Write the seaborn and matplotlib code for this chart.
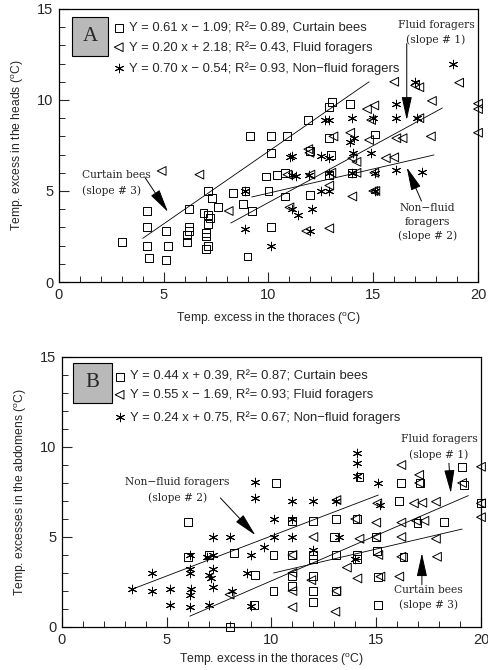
import matplotlib
matplotlib.use("Agg")
import matplotlib.pyplot as plt
import seaborn as sns
import pandas as pd
from matplotlib.patches import Rectangle
from matplotlib.ticker import MultipleLocator

# ---------------- Panel A : heads vs thoraces ----------------
a_curtain_x = [3.0, 4.2, 4.2, 4.2, 4.3, 5.1, 5.2, 5.1, 6.2, 6.1, 6.2, 6.2, 6.1,
               7.1, 7.3, 6.9, 7.1, 7.2, 7.1, 7.0, 7.0, 7.1, 7.0, 7.6, 8.3, 8.8,
               8.9, 9.0, 9.2, 9.1, 9.9, 10.0, 10.1, 10.1, 10.1, 10.4, 10.9, 10.8,
               10.8, 11.9, 12.0, 12.0, 12.9, 13.0, 12.9, 12.9, 13.9, 14.0, 15.1,
               13.05, 13.9]
a_curtain_y = [2.2, 3.9, 3.0, 2.0, 1.3, 2.8, 2.0, 1.2, 4.0, 2.6, 3.0, 2.8, 2.2,
               5.0, 4.6, 3.8, 3.7, 3.5, 3.2, 2.7, 2.5, 2.0, 1.8, 4.1, 4.9, 4.3,
               5.0, 1.4, 3.9, 8.0, 5.8, 5.0, 3.0, 7.1, 8.0, 5.9, 8.0, 6.0,
               4.7, 8.9, 7.2, 4.8, 9.6, 7.0, 7.9, 5.9, 9.8, 6.0, 8.1,
               9.9, 9.8]

a_fluid_x = [4.9, 6.7, 8.1, 10.9, 11.0, 11.8, 11.95, 12.0, 11.9, 12.9, 12.9,
             13.0, 13.1, 13.9, 14.0, 14.0, 14.2, 14.2, 14.7, 14.9, 15.0, 15.1,
             15.05, 15.6, 16.0, 16.1, 16.4, 16.0, 17.0, 17.2, 17.2, 17.75, 17.8,
             19.1, 20.0, 20.0, 20.0, 15.05, 14.8]
a_fluid_y = [6.1, 5.9, 3.9, 5.9, 4.1, 2.8, 7.1, 5.9, 7.3, 2.95, 5.3,
             6.0, 8.0, 8.2, 4.7, 6.8, 6.6, 6.0, 9.5, 8.9, 5.0, 5.0,
             9.7, 6.8, 6.85, 7.9, 7.9, 11.0, 10.8, 10.7, 9.0, 8.0, 9.95,
             10.95, 9.8, 9.5, 8.2, 6.0, 7.8]

a_nonfluid_x = [8.9, 10.1, 8.9, 11.1, 11.1, 11.4, 11.1, 11.3, 12.0, 12.1, 11.95,
                12.5, 12.9, 12.5, 12.9, 12.9, 14.0, 14.05, 14.9, 15.1, 16.1,
                17.35, 15.1, 11.05, 12.7, 12.9, 14.1, 13.9, 14.0, 15.0, 16.1,
                16.1, 17.0, 18.8, 17.1]
a_nonfluid_y = [2.9, 2.0, 5.0, 6.9, 4.0, 3.7, 5.9, 5.85, 2.8, 4.0, 5.9,
                5.0, 5.0, 6.9, 6.8, 6.0, 6.0, 7.1, 7.1, 6.0, 6.15,
                6.06, 5.0, 6.85, 8.9, 8.9, 7.9, 7.7, 9.0, 9.0, 9.0,
                9.8, 11.0, 12.0, 9.0]

# ---------------- Panel B : abdomens vs thoraces ----------------
b_curtain_x = [8.0, 9.15, 9.2, 8.2, 7.0, 6.0, 6.0, 10.2, 10.1, 10.1, 11.0, 11.0,
               11.0, 11.0, 12.0, 12.0, 12.0, 12.0, 12.0, 12.0, 13.1, 13.0, 13.1,
               13.1, 14.2, 14.1, 14.1, 14.1, 15.0, 15.05, 15.1, 15.1, 16.2, 16.1,
               16.3, 16.97, 18.25, 19.2, 20.0, 19.1, 17.1]
b_curtain_y = [0.0, 1.2, 2.9, 4.1, 4.0, 3.9, 5.85, 8.0, 2.0, 4.0, 5.9, 4.0,
               2.85, 2.3, 5.9, 4.0, 3.8, 2.85, 2.0, 1.4, 4.0, 5.0, 6.0,
               2.0, 8.35, 6.0, 4.0, 3.8, 5.0, 4.2, 2.8, 1.2, 8.0, 7.0,
               3.9, 5.76, 5.85, 7.9, 6.9, 8.9, 8.0]

b_fluid_x = [8.0, 11.0, 11.0, 11.0, 11.0, 11.9, 12.0, 13.05, 13.1, 13.1, 13.6,
             14.1, 14.2, 14.0, 15.05, 15.0, 15.0, 15.1, 15.2, 16.1, 16.2, 16.2,
             16.2, 16.8, 17.2, 17.85, 17.05, 16.9, 17.3, 17.85, 17.9, 19.1,
             20.0, 20.0, 16.2, 20.0, 17.05]
b_fluid_y = [1.8, 1.1, 2.0, 3.0, 4.0, 2.6, 5.0, 0.85, 2.0, 7.05, 3.3,
             2.7, 4.9, 6.0, 6.87, 5.8, 5.0, 4.0, 2.8, 2.8, 3.9, 5.0,
             5.8, 6.87, 6.9, 6.96, 8.0, 5.9, 5.9, 4.9, 3.9, 8.0,
             6.87, 6.1, 9.0, 8.9, 8.45]

b_nonfluid_x = [3.33, 4.3, 4.3, 5.17, 5.17, 6.1, 6.1, 6.1, 6.15, 6.1, 6.1, 7.2,
                7.2, 7.2, 7.0, 7.2, 7.0, 8.0, 8.1, 8.84, 9.0, 9.23, 9.23, 9.0,
                9.63, 10.1, 10.1, 11.0, 11.0, 11.0, 12.0, 12.0, 13.2, 14.1, 15.1,
                15.2, 14.0, 14.1, 14.1, 13.1, 6.9, 7.1]
b_nonfluid_y = [2.1, 3.0, 2.0, 2.1, 1.22, 3.0, 3.2, 4.0, 2.1, 1.8, 1.1, 5.0,
                4.0, 3.2, 2.9, 2.2, 1.2, 5.0, 2.0, 3.0, 4.0, 7.15, 8.07, 1.15,
                4.46, 6.0, 5.0, 7.0, 6.0, 5.0, 7.0, 4.3, 5.0, 8.4, 8.0,
                6.8, 3.8, 9.65, 9.1, 7.0, 3.9, 2.7]

# Regression lines as drawn (x start, x end, y start, y end)
a_line_x0 = [4.0, 8.2, 9.2]
a_line_x1 = [14.8, 18.3, 17.9]
a_line_y0 = [2.4, 3.24, 4.67]
a_line_y1 = [11.0, 9.56, 6.98]
b_line_x0 = [10.1, 6.1, 3.35]
b_line_x1 = [19.1, 19.4, 15.1]
b_line_y0 = [3.0, 0.6, 2.1]
b_line_y1 = [5.44, 7.3, 7.33]

a_legend = ["Y = 0.61 x \u2212 1.09; R\u00b2= 0.89, Curtain bees",
            "Y = 0.20 x + 2.18; R\u00b2= 0.43, Fluid foragers",
            "Y = 0.70 x \u2212 0.54; R\u00b2= 0.93, Non\u2212fluid foragers"]
b_legend = ["Y = 0.44 x + 0.39, R\u00b2= 0.87; Curtain bees",
            "Y = 0.55 x \u2212 1.69, R\u00b2= 0.93; Fluid foragers",
            "Y = 0.24 x + 0.75, R\u00b2= 0.67; Non\u2212fluid foragers"]

sns.set_style("ticks")
plt.rcParams["font.family"] = ["Liberation Sans", "DejaVu Sans"]
plt.rcParams["mathtext.fontset"] = "custom"
plt.rcParams["mathtext.rm"] = "Liberation Sans"

fig = plt.figure(figsize=(4.88, 6.70), dpi=100)
axA = fig.add_axes([0.1209, 0.5791, 0.8586, 0.4075])
axB = fig.add_axes([0.1270, 0.0642, 0.8586, 0.4030])

MARK = {"curtain": "s", "fluid": "<", "nonfluid": (6, 2, 0)}
SERIF = ["DejaVu Serif"]


def draw_points(ax, xs, ys, kind):
    df = pd.DataFrame({"x": xs, "y": ys})
    if kind == "nonfluid":
        sns.scatterplot(data=df, x="x", y="y", marker=MARK[kind], s=38,
                        color="black", linewidth=0.7, ax=ax, clip_on=False,
                        legend=False)
    else:
        sns.scatterplot(data=df, x="x", y="y", marker=MARK[kind],
                        s=32 if kind == "curtain" else 40,
                        facecolor="none", edgecolor="black", linewidth=0.7,
                        ax=ax, clip_on=False, legend=False)


def style_axes(ax, ylabel, xpad):
    ax.set_xlim(0, 20)
    ax.set_ylim(0, 15)
    ax.set_xticks([0, 5, 10, 15, 20])
    ax.set_yticks([0, 5, 10, 15])
    ax.xaxis.set_minor_locator(MultipleLocator(1))
    ax.yaxis.set_minor_locator(MultipleLocator(1))
    ax.tick_params(which="major", direction="in", length=7, width=0.8,
                   labelsize=10.5, pad=4)
    ax.tick_params(which="minor", direction="in", length=4, width=0.7)
    for sp in ax.spines.values():
        sp.set_visible(True)
        sp.set_linewidth(0.9)
        sp.set_color("black")
    ax.set_xlabel("Temp. excess in the thoraces ($^{\\mathrm{o}}$C)",
                  fontsize=8.7, labelpad=xpad)
    ax.set_ylabel(ylabel, fontsize=8.7, labelpad=8)


def legend_block(ax, letter, texts, box, xm, xt, ys):
    ax.add_patch(Rectangle((box[0], box[1]), box[2], box[3],
                           transform=ax.transAxes, facecolor="#b9b9b9",
                           edgecolor="black", linewidth=0.8, zorder=3))
    ax.text(box[0] + box[2] / 2, box[1] + box[3] / 2, letter,
            transform=ax.transAxes, ha="center", va="center",
            fontsize=15, family=["Liberation Serif"], zorder=4)
    for kind, txt, yy in zip(["curtain", "fluid", "nonfluid"], texts, ys):
        if kind == "nonfluid":
            ax.scatter([xm], [yy], marker=MARK[kind], s=38, color="black",
                       linewidth=0.7, clip_on=False)
        else:
            ax.scatter([xm], [yy], marker=MARK[kind],
                       s=32 if kind == "curtain" else 40, facecolor="none",
                       edgecolor="black", linewidth=0.7, clip_on=False)
        ax.text(xt, yy, txt, fontsize=9.4, va="center", ha="left")


def arrow(ax, tail, tip):
    ax.annotate("", xy=tip, xytext=tail,
                arrowprops=dict(arrowstyle="-|>,head_length=1.45,head_width=0.32",
                                mutation_scale=10, lw=0.7, color="black",
                                shrinkA=0, shrinkB=0))


# ---------- Panel A ----------
draw_points(axA, a_curtain_x, a_curtain_y, "curtain")
draw_points(axA, a_fluid_x, a_fluid_y, "fluid")
draw_points(axA, a_nonfluid_x, a_nonfluid_y, "nonfluid")
for x0, x1, y0, y1 in zip(a_line_x0, a_line_x1, a_line_y0, a_line_y1):
    axA.plot([x0, x1], [y0, y1], color="black", lw=0.6)
style_axes(axA, "Temp. excess in the heads ($^{\\mathrm{o}}$C)", 6)
legend_block(axA, "A", a_legend, (0.031, 0.828, 0.086, 0.143),
             2.85, 3.35, [13.95, 12.9, 11.75])
axA.text(18.0, 13.7, "Fluid foragers\n(slope # 1)", family=SERIF,
         fontsize=7.7, ha="center", va="center", linespacing=1.6)
arrow(axA, (16.6, 13.1), (16.6, 8.9))
axA.text(1.1, 5.45, "Curtain bees\n(slope # 3)", family=SERIF,
         fontsize=7.7, ha="left", va="center", linespacing=1.6)
arrow(axA, (4.1, 5.75), (5.2, 3.85))
axA.text(17.6, 3.3, "Non\u2212fluid\nforagers\n(slope # 2)", family=SERIF,
         fontsize=7.7, ha="center", va="center", linespacing=1.5)
arrow(axA, (17.3, 4.45), (16.6, 6.3))

# ---------- Panel B ----------
draw_points(axB, b_curtain_x, b_curtain_y, "curtain")
draw_points(axB, b_fluid_x, b_fluid_y, "fluid")
draw_points(axB, b_nonfluid_x, b_nonfluid_y, "nonfluid")
for x0, x1, y0, y1 in zip(b_line_x0, b_line_x1, b_line_y0, b_line_y1):
    axB.plot([x0, x1], [y0, y1], color="black", lw=0.6)
style_axes(axB, "Temp. excesses in the abdomens ($^{\\mathrm{o}}$C)", 3.5)
legend_block(axB, "B", b_legend, (0.026, 0.83, 0.093, 0.148),
             2.75, 3.25, [13.9, 12.9, 11.65])
axB.text(18.0, 10.0, "Fluid foragers\n(slope # 1)", family=SERIF,
         fontsize=7.7, ha="center", va="center", linespacing=1.6)
arrow(axB, (18.47, 9.1), (18.56, 7.44))
axB.text(5.5, 7.6, "Non\u2212fluid foragers\n(slope # 2)", family=SERIF,
         fontsize=7.7, ha="center", va="center", linespacing=1.6)
arrow(axB, (7.56, 7.17), (9.23, 5.1))
axB.text(17.5, 1.63, "Curtain bees\n(slope # 3)", family=SERIF,
         fontsize=7.7, ha="center", va="center", linespacing=1.6)
arrow(axB, (17.18, 2.35), (17.18, 4.1))

fig.savefig("out.png", dpi=100)
